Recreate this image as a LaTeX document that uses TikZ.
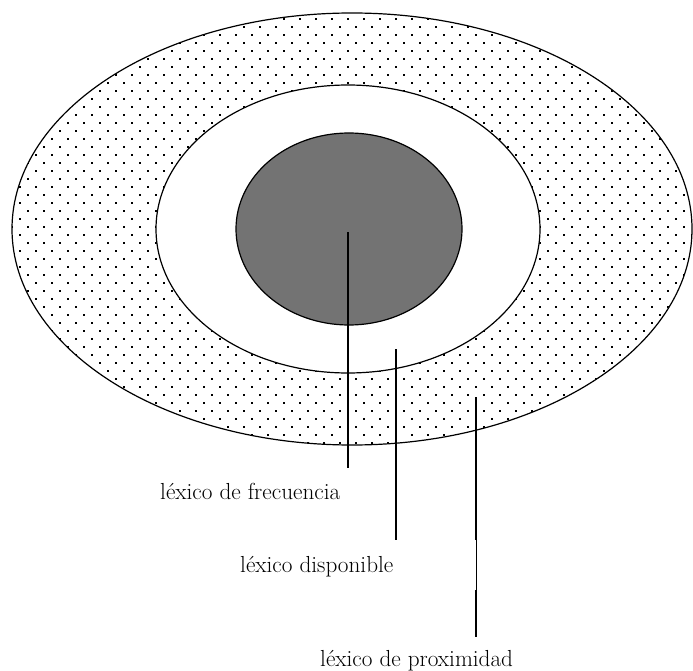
\documentclass[tikz,border=0pt]{standalone}
\usetikzlibrary{patterns}
\pgfdeclarepatternformonly{sparsedots}{\pgfqpoint{-1pt}{-1pt}}{\pgfqpoint{17pt}{17pt}}{\pgfqpoint{16pt}{16pt}}{%
  \pgfpathrectangle{\pgfqpoint{3.2pt}{3.2pt}}{\pgfqpoint{1.7pt}{1.7pt}}%
  \pgfpathrectangle{\pgfqpoint{11.2pt}{11.2pt}}{\pgfqpoint{1.7pt}{1.7pt}}%
  \pgfusepath{fill}%
}
\begin{document}
\begin{tikzpicture}[x=1pt,y=-1pt,
  ring/.style={draw=black, line width=1.2pt},
  leader/.style={line width=1.3pt},
  faint/.style={line width=0.4pt},
  lbl/.style={font=\fontsize{23.2}{27}\selectfont, inner sep=0pt, anchor=base west}]
\useasboundingbox (0,0) rectangle (693,671);
% rings
\draw[ring, pattern=sparsedots] (352,229) ellipse [x radius=340, y radius=216];
\draw[ring, fill=white] (348,229) ellipse [x radius=192, y radius=144];
\draw[ring, fill=black!55] (349,229) ellipse [x radius=113, y radius=96];
% leader coordinates
\coordinate (fa) at (348,232);
\coordinate (fb) at (348,468);
\coordinate (da) at (396,349);
\coordinate (db) at (396,540);
\coordinate (pa) at (476,397);
\coordinate (pb) at (476,540);
\coordinate (pc) at (476,590);
\coordinate (pd) at (476,637);
\draw[leader] (fa) -- (fb);
\draw[leader] (da) -- (db);
\draw[leader] (pa) -- (pb);
\draw[faint] (pb) -- (pc);
\draw[leader] (pc) -- (pd);
% labels
\node[lbl] (lfrec) at (160,499) {léxico de frecuencia};
\node[lbl] (ldisp) at (240,572) {léxico disponible};
\node[lbl] (lprox) at (320,666) {léxico de proximidad};
\end{tikzpicture}
\end{document}
